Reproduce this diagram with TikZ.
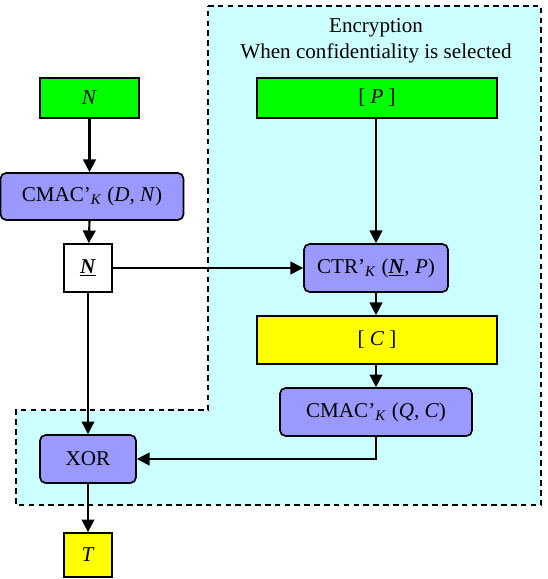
\documentclass[tikz,border=0pt]{standalone}
\usepackage{fontspec}
\setmainfont{Liberation Serif}
\usepackage{tikz}
\usetikzlibrary{arrows.meta}
\definecolor{boxblue}{HTML}{9999FF}
\definecolor{boxgreen}{HTML}{00FF00}
\definecolor{boxyellow}{HTML}{FFFF00}
\definecolor{regioncyan}{HTML}{CCFFFF}
\tikzset{
  blockbox/.style={draw=black, line width=1.2pt, fill=boxblue, rounded corners=4pt, inner sep=0pt},
  greenbox/.style={draw=black, line width=1.2pt, fill=boxgreen, inner sep=0pt},
  yellowbox/.style={draw=black, line width=1.2pt, fill=boxyellow, inner sep=0pt},
  whitebox/.style={draw=black, line width=1.2pt, fill=white, inner sep=0pt},
  flow/.style={line width=1.5pt, -{Triangle[length=9pt,width=9pt]}}
}
\begin{document}
\begin{tikzpicture}[x=0.025cm, y=-0.025cm, font=\fontsize{15}{18}\selectfont]
            \useasboundingbox (0,0) rectangle (547,579);

            \draw[line width=1pt, dash pattern=on 4pt off 3pt, fill=regioncyan] (208,6) -- (541,6) -- (541,505)
               -- (16,505) -- (16,410) -- (208,410) -- cycle;
            \node (title) at (376,28) {Encryption};
            \node (subtitle) at (376,53) {When confidentiality is selected};

            \node[greenbox, minimum width=2.475cm, minimum height=1.0cm] (N) at (89.5,98) {\textit{N}};
            \node[greenbox, minimum width=6.0cm, minimum height=1.0cm] (P) at (377,98) {[ \textit{P} ]};
            \node[blockbox, minimum width=4.575cm, minimum height=1.175cm] (cmacDN) at (92,196.5)
               {CMAC’\textsubscript{\textit{K}} (\textit{D, N})};
            \node[whitebox, minimum width=1.2cm, minimum height=1.2cm] (Nbar) at (88,268)
               {\underline{\textbf{\textit{N}}}};
            \node[blockbox, minimum width=3.6cm, minimum height=1.2cm] (ctr) at (376,268)
               {CTR’\textsubscript{\textit{K}} (\underline{\textbf{\textit{N}}}, \textit{P})};
            \node[yellowbox, minimum width=6.0cm, minimum height=1.2cm] (C) at (377,340) {[ \textit{C} ]};
            \node[blockbox, minimum width=4.8cm, minimum height=1.2cm] (cmacQC) at (376,412)
               {CMAC’\textsubscript{\textit{K}} (\textit{Q, C})};
            \node[blockbox, minimum width=2.4cm, minimum height=1.2cm] (xor) at (88,459) {XOR};
            \node[yellowbox, minimum width=1.2cm, minimum height=1.1cm] (T) at (88,555) {\textit{T}};

            \draw[flow] (N) -- (N |- cmacDN.north);
            \draw[flow] (N |- cmacDN.south) -- (Nbar);
            \draw[flow] (Nbar) -- (ctr);
            \draw[flow] (ctr |- P.south) -- (ctr);
            \draw[flow] (ctr) -- (ctr |- C.north);
            \draw[flow] (ctr |- C.south) -- (cmacQC);
            \draw[flow] (cmacQC) |- (xor);
            \draw[flow] (Nbar) -- (xor);
            \draw[flow] (xor) -- (T);
\end{tikzpicture}
\end{document}
